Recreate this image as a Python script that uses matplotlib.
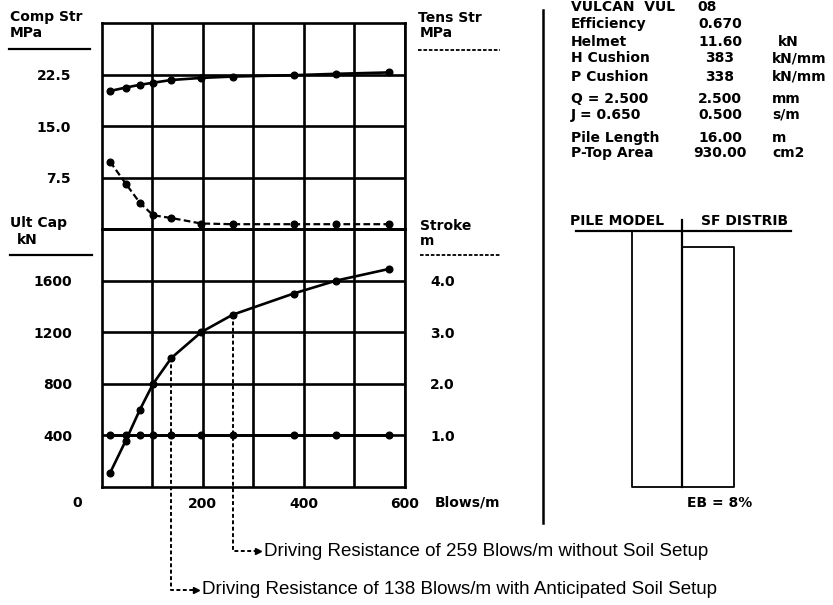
import matplotlib
matplotlib.use("Agg")
import matplotlib.pyplot as plt

plt.rcParams['font.family'] = ['DejaVu Sans']

# ---- data ---------------------------------------------------------------
blows = [17, 48, 76, 102, 138, 197, 259, 380, 464, 568]          # Blows/m
comp_str = [20.1, 20.6, 21.0, 21.3, 21.7, 22.0, 22.2, 22.4, 22.6, 22.8]  # MPa
tens_str = [9.8, 6.6, 3.8, 2.0, 1.6, 0.8, 0.7, 0.7, 0.7, 0.7]            # MPa
ult_cap = [110, 360, 600, 800, 1000, 1200, 1335, 1500, 1600, 1690]      # kN
stroke = [1.0, 1.0, 1.0, 1.0, 1.0, 1.0, 1.0, 1.0, 1.0, 1.0]              # m

x_ticks = [200, 400, 600]
str_ticks = [7.5, 15.0, 22.5]
cap_ticks = [400, 800, 1200, 1600]
stroke_ticks = [1.0, 2.0, 3.0, 4.0]

setup_blows = 138      # with anticipated soil setup
nosetup_blows = 259    # without soil setup
setup_cap = 1000
nosetup_cap = 1335

hammer_rows = [
    ("VULCAN  VUL", "08", ""),
    ("Efficiency", "0.670", ""),
    ("Helmet", "11.60", "kN"),
    ("H Cushion", "383", "kN/mm"),
    ("P Cushion", "338", "kN/mm"),
    ("Q = 2.500", "2.500", "mm"),
    ("J = 0.650", "0.500", "s/m"),
    ("Pile Length", "16.00", "m"),
    ("P-Top Area", "930.00", "cm2"),
]
row_y = [7, 24, 42, 58, 77, 99, 115, 138, 153]

# ---- figure --------------------------------------------------------------
W, H = 833, 605
fig = plt.figure(figsize=(W / 100, H / 100), dpi=100)


def rect(x0, y0, x1, y1):
    """Axes rectangle from pixel box (top-left origin)."""
    return [x0 / W, 1 - y1 / H, (x1 - x0) / W, (y1 - y0) / H]


AX_L, AX_R = 101.5, 405
TOP, MID, BOT = 23, 229, 487
LW = 1.9
FS = 10
TFS = 10

ax_s = fig.add_axes(rect(AX_L, TOP, AX_R, MID))
ax_c = fig.add_axes(rect(AX_L, MID, AX_R, BOT), sharex=ax_s)
ax_k = ax_c.twinx()

for a in (ax_s, ax_c):
    a.set_xlim(0, 600)
    a.set_xticks([100, 200, 300, 400, 500, 600])
    a.grid(True, color='black', lw=LW)
    for sp in a.spines.values():
        sp.set_linewidth(LW)
    a.tick_params(length=0)
    a.set_facecolor('none')

# stress panel
ax_s.set_ylim(0, 30)
ax_s.set_yticks(str_ticks)
ax_s.set_yticklabels([f"{v:.1f}" for v in str_ticks], fontsize=TFS, fontweight='bold')
ax_s.tick_params(axis='y', pad=22)
ax_s.tick_params(axis='x', labelbottom=False)
ax_s.plot(blows, comp_str, color='black', lw=1.9, marker='o', ms=4.8, zorder=5)
ax_s.plot(blows, tens_str, color='black', lw=1.6, ls=(0, (3, 1.5)), marker='o',
          ms=4.8, zorder=5)
ax_s.axhline(0, color='black', lw=LW)

# capacity panel
ax_c.set_ylim(0, 2000)
ax_c.set_yticks(cap_ticks + [2000])
ax_c.set_yticklabels([str(v) for v in cap_ticks] + [""], fontsize=TFS, fontweight='bold')
ax_c.tick_params(axis='y', pad=21)
ax_c.set_xticklabels(["", "200", "", "400", "", "600"], fontsize=TFS, fontweight='bold')
ax_c.tick_params(axis='x', pad=7)
ax_c.plot(blows, ult_cap, color='black', lw=1.9, marker='o', ms=4.8, zorder=5)

ax_k.set_ylim(0, 5)
ax_k.set_yticks(stroke_ticks)
ax_k.set_yticklabels([f"{v:.1f}" for v in stroke_ticks], fontsize=TFS, fontweight='bold')
ax_k.tick_params(length=0, pad=18)
for sp in ax_k.spines.values():
    sp.set_visible(False)
ax_k.plot(blows, stroke, color='black', lw=2.0, marker='o', ms=4.8, zorder=5)

# driving-resistance leaders
lead = dict(color='black', lw=1.4, ls=(0, (2, 1.3)), clip_on=False, zorder=6)
px2cap = 2000 / (BOT - MID)
px2blow = 600 / (AX_R - AX_L)
for b, c, ypx, txt in [
    (nosetup_blows, nosetup_cap, 551,
     f"Driving Resistance of {nosetup_blows} Blows/m without Soil Setup"),
    (setup_blows, setup_cap, 590,
     f"Driving Resistance of {setup_blows} Blows/m with Anticipated Soil Setup"),
]:
    yd = -(ypx - BOT) * px2cap
    xe = b + 25 * px2blow
    ax_c.plot([b, b, xe], [c, yd, yd], **lead)
    ax_c.plot([xe], [yd], marker='>', ms=5, color='black', clip_on=False, zorder=6)
    ax_c.text(xe + 6 * px2blow, yd, txt, fontsize=13.5, va='center', ha='left',
              family='Liberation Sans', clip_on=False)

# ---- overlay for labels and panel art -----------------------------------
ov = fig.add_axes([0, 0, 1, 1], zorder=-1)
ov.set_xlim(0, W)
ov.set_ylim(H, 0)
ov.axis('off')

bold = dict(fontsize=FS, fontweight='bold', va='center')
ov.text(10, 17, "Comp Str", ha='left', **bold)
ov.text(10, 33, "MPa", ha='left', **bold)
ov.plot([9, 90], [49, 49], color='black', lw=1.6)
ov.text(10, 223, "Ult Cap", ha='left', **bold)
ov.text(17, 240, "kN", ha='left', **bold)
ov.plot([10, 92], [255, 255], color='black', lw=1.6)
ov.text(77, 503, "0", ha='center', **bold)

ov.text(418, 18, "Tens Str", ha='left', **bold)
ov.text(420, 33, "MPa", ha='left', **bold)
ov.plot([418, 500], [50, 50], color='black', lw=1.3, ls=(0, (2, 1)))
ov.text(420, 226, "Stroke", ha='left', **bold)
ov.text(420, 241, "m", ha='left', **bold)
ov.plot([420, 500], [255, 255], color='black', lw=1.3, ls=(0, (2, 1)))
ov.text(435, 503, "Blows/m", ha='left', **bold)

# separator
ov.plot([543, 543], [10, 523], color='black', lw=1.8)

# hammer / pile parameters
for (lab, val, unit), y in zip(hammer_rows, row_y):
    ov.text(571, y, lab, ha='left', **bold)
    if lab.startswith("VULCAN"):
        ov.text(697, y, val, ha='left', **bold)
    else:
        ov.text(720, y, val, ha='center', **bold)
    if unit:
        ov.text(778 if unit == "kN" else 772, y, unit, ha='left', **bold)

# pile model / skin friction distribution
ov.text(570, 221, "PILE MODEL", ha='left', **bold)
ov.text(701, 221, "SF DISTRIB", ha='left', **bold)
ov.plot([576, 791], [231, 231], color='black', lw=1.6)
ov.plot([682, 682], [220, 487], color='black', lw=1.6)
ov.plot([632, 632, 682], [231, 487, 487], color='black', lw=1.3)
ov.plot([682, 734, 734, 682], [247, 247, 487, 487], color='black', lw=1.3)
ov.text(687, 503, "EB = 8%", ha='left', **bold)

fig.savefig("out.png", dpi=100)
